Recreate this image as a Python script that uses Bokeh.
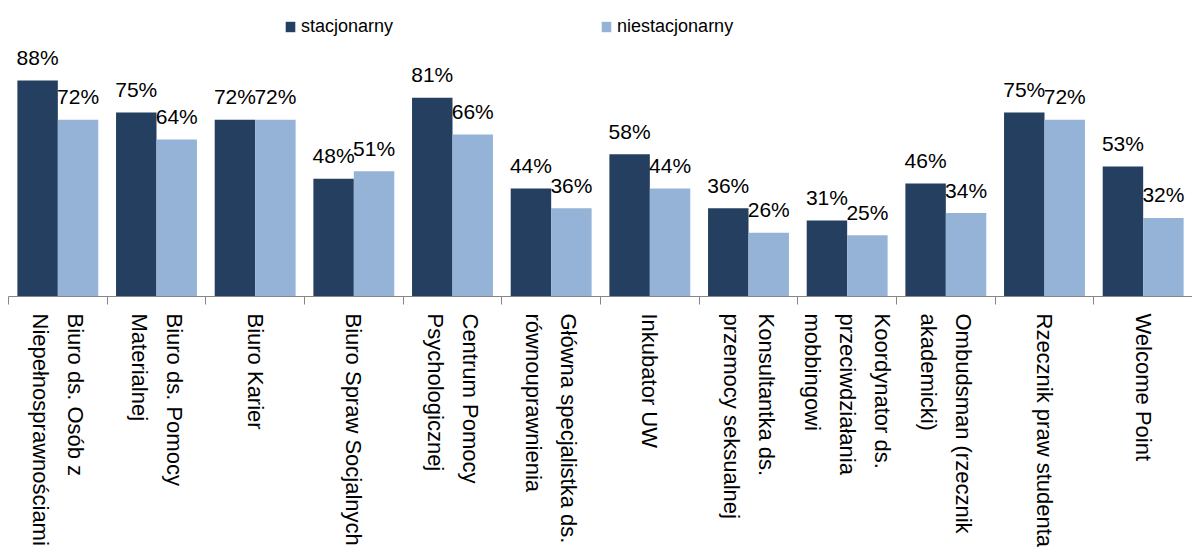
import math
from bokeh.plotting import figure
from bokeh.models import (FactorRange, Range1d, ColumnDataSource, LinearAxis,
                          FixedTicker, Legend, LegendItem)
from bokeh.transform import dodge
from bokeh.core.properties import value
from bokeh.embed import file_html
from bokeh.resources import INLINE

categories = [
    "Biuro ds. Osób z\nNiepełnosprawnościami",
    "Biuro ds. Pomocy\nMaterialnej",
    "Biuro Karier",
    "Biuro Spraw Socjalnych",
    "Centrum Pomocy\nPsychologicznej",
    "Główna specjalistka ds.\nrównouprawnienia",
    "Inkubator UW",
    "Konsultantka ds.\nprzemocy seksualnej",
    "Koordynator ds.\nprzeciwdziałania\nmobbingowi",
    "Ombudsman (rzecznik\nakademicki)",
    "Rzecznik praw studenta",
    "Welcome Point",
]
stacjonarny = [88, 75, 72, 48, 81, 44, 58, 36, 31, 46, 75, 53]
niestacjonarny = [72, 64, 72, 51, 66, 36, 44, 26, 25, 34, 72, 32]
series_names = ["stacjonarny", "niestacjonarny"]

DARK = "#243F60"
LIGHT = "#95B3D7"
FONT = "Liberation Sans"

src = ColumnDataSource(dict(
    cat=categories,
    s=stacjonarny,
    n=niestacjonarny,
    s_lbl=[f"{v}%" for v in stacjonarny],
    n_lbl=[f"{v}%" for v in niestacjonarny],
))

p = figure(x_range=FactorRange(*categories, range_padding=0),
           y_range=Range1d(0, 120.6),
           width=1192, height=555,
           output_backend="svg", toolbar_location=None,
           x_axis_location=None, y_axis_location=None,
           min_border_left=8, min_border_right=0, min_border_top=0,
           min_border_bottom=259)
p.outline_line_color = None
p.xgrid.grid_line_color = None
p.ygrid.grid_line_color = None
p.background_fill_color = "white"
p.border_fill_color = "white"

off = 0.205
bw = 0.41
r1 = p.vbar(x=dodge("cat", -off, range=p.x_range), top="s", width=bw,
            source=src, fill_color=DARK, line_color=None)
r2 = p.vbar(x=dodge("cat", off, range=p.x_range), top="n", width=bw,
            source=src, fill_color=LIGHT, line_color=None)

p.text(x=dodge("cat", -off, range=p.x_range), y="s", text="s_lbl", source=src,
       text_align="center", text_baseline="alphabetic", y_offset=-23,
       text_font=value(FONT), text_font_size="21px", text_color="#000000")
p.text(x=dodge("cat", off, range=p.x_range), y="n", text="n_lbl", source=src,
       text_align="center", text_baseline="alphabetic", y_offset=-23,
       text_font=value(FONT), text_font_size="21px", text_color="#000000")

# x axis: labels at category centres, ticks at category boundaries
n = len(categories)
centers = [i + 0.5 for i in range(n)]
edges = list(range(n + 1))
overrides = {c: lbl for c, lbl in zip(centers, categories)}
ax = LinearAxis(ticker=FixedTicker(ticks=centers, minor_ticks=edges),
                major_label_overrides=overrides,
                major_tick_out=0, major_tick_in=0,
                minor_tick_out=8, minor_tick_in=0,
                major_tick_line_color=None,
                axis_line_color="#868686", minor_tick_line_color="#868686",
                major_label_orientation=-math.pi / 2,
                major_label_standoff=9,
                major_label_text_font=FONT,
                major_label_text_font_size="22px",
                major_label_text_line_height=1.4,
                major_label_text_color="#000000")
p.add_layout(ax, "below")

legend = Legend(items=[LegendItem(label=series_names[0], renderers=[r1]),
                       LegendItem(label=series_names[1], renderers=[r2])],
                orientation="horizontal", location=(276, 259),
                spacing=207, padding=0, margin=0,
                border_line_color=None, background_fill_alpha=0,
                label_text_font=FONT, label_text_font_size="18px",
                label_text_color="#000000",
                glyph_width=12, glyph_height=13, label_standoff=5)
p.add_layout(legend)

open("out.html", "w").write(file_html(p, INLINE))
